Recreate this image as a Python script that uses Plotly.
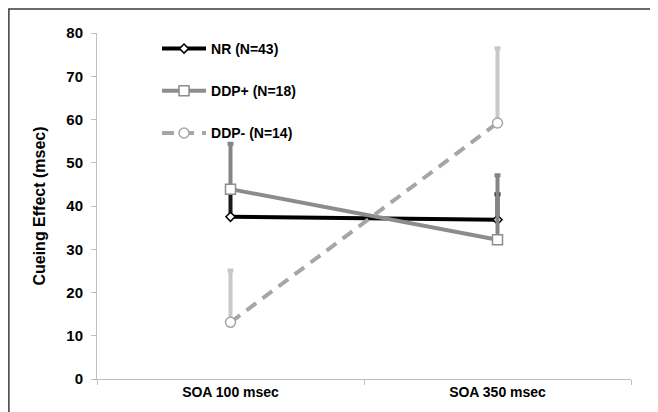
import plotly.graph_objects as go

categories = ["SOA 100 msec", "SOA 350 msec"]
series_names = ["NR (N=43)", "DDP+ (N=18)", "DDP- (N=14)"]
nr_vals = [37.5, 36.8]
nr_err = [6.0, 5.9]
ddpp_vals = [43.9, 32.2]
ddpp_err = [10.5, 14.9]
ddpm_vals = [13.1, 59.2]
ddpm_err = [12.0, 17.3]
y_ticks = [0, 10, 20, 30, 40, 50, 60, 70, 80]

FONT = "Liberation Sans, Arial, sans-serif"

fig = go.Figure()

def add(name, vals, err, line_color, err_color, dash, symbol, msize, width):
    fig.add_trace(go.Scatter(
        x=categories, y=vals, name=name, mode="lines+markers",
        line=dict(color=line_color, width=width, dash=dash),
        marker=dict(symbol=symbol, size=msize, color="white",
                    line=dict(color=line_color, width=1.5)),
        error_y=dict(type="data", array=err, arrayminus=[0, 0], symmetric=False,
                     color=err_color, thickness=4, width=3),
        legendgroup=name,
    ))

add(series_names[0], nr_vals, nr_err, "#000000", "#1A1A1A", "solid", "diamond", 7, 4)
add(series_names[1], ddpp_vals, ddpp_err, "#8C8C8C", "#858585", "solid", "square", 10, 4)
add(series_names[2], ddpm_vals, ddpm_err, "#A6A6A6", "#C8C8C8", "12px,8px", "circle", 10, 4)

# page body has an 8px default margin, so the figure is sized to fit the window
fig.update_layout(
    width=650, height=404,
    margin=dict(l=89, r=27, t=25, b=29),
    paper_bgcolor="white", plot_bgcolor="white",
    font=dict(family=FONT, color="#000000"),
    showlegend=True,
    legend=dict(x=0.1124, y=1.0, xanchor="left", yanchor="top",
                traceorder="grouped", tracegroupgap=21, itemwidth=44,
                font=dict(family=FONT, size=14, color="#000000", weight="bold"),
                bgcolor="rgba(0,0,0,0)"),
    xaxis=dict(type="category", range=[-0.5, 1.5], tickson="boundaries",
               ticks="outside", ticklen=5, tickcolor="#BFBFBF",
               showline=True, linecolor="#BFBFBF", linewidth=1,
               showgrid=False, zeroline=False,
               tickfont=dict(family=FONT, size=14, weight="bold")),
    yaxis=dict(range=[0, 80], tickvals=y_ticks, ticks="outside", ticklen=5,
               tickcolor="#BFBFBF", showline=True, linecolor="#BFBFBF", linewidth=1,
               showgrid=False, zeroline=False, ticklabelstandoff=5,
               tickfont=dict(family=FONT, size=15, weight="bold"),
               title=dict(text="Cueing Effect (msec)", standoff=16,
                          font=dict(family=FONT, size=16, weight="bold"))),
    shapes=[dict(type="rect", xref="paper", yref="paper",
                 x0=-0.165, x1=1.3, y0=-0.3, y1=1.0693,
                 line=dict(color="#3A3A3A", width=1.5), layer="above")],
)

fig.write_html("out.html")
